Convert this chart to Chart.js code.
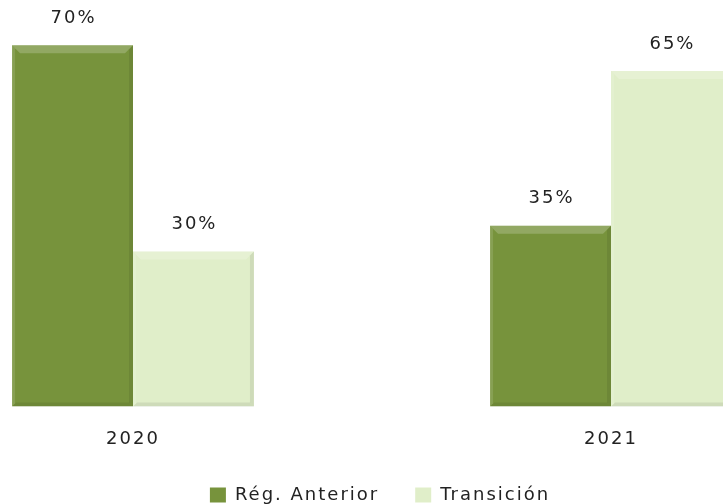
<!DOCTYPE html>
<html>
<head>
<meta charset="utf-8">
<script src="https://cdn.jsdelivr.net/npm/chart.js@4.4.0/dist/chart.umd.min.js"></script>
<style>
  html, body { margin: 0; padding: 0; background: #fff; overflow: hidden; }
  #wrap { position: absolute; left: -106px; top: 0; width: 956px; height: 504px; }
</style>
</head>
<body>
<div id="wrap"><canvas id="myBarChart" width="956" height="504"></canvas></div>
<script>
// data
const years = ['2020', '2021'];
const regAnterior = [70, 35];
const transicion = [30, 65];
const seriesNames = ['Rég. Anterior', 'Transición'];

// wide letter spacing like the original font (canvas state gets reset on resize)
const spacing = {
  id: 'spacing',
  beforeLayout(chart) { chart.ctx.letterSpacing = '2px'; },
  beforeDraw(chart) { chart.ctx.letterSpacing = '2px'; }
};

// nudge the legend a bit up/right after layout
const legendShift = {
  id: 'legendShift',
  afterLayout(chart) {
    const lg = chart.legend;
    lg.top -= 14; lg.bottom -= 14;
    lg.left += 8; lg.right += 8;
  }
};

// value labels above each bar
const valueLabels = {
  id: 'valueLabels',
  afterDatasetsDraw(chart) {
    const ctx = chart.ctx;
    ctx.save();
    ctx.font = '18px "DejaVu Sans"';
    ctx.fillStyle = '#222';
    ctx.textAlign = 'center';
    ctx.textBaseline = 'middle';
    chart.data.datasets.forEach((ds, i) => {
      chart.getDatasetMeta(i).data.forEach((bar, j) => {
        ctx.fillText(ds.data[j] + '%', bar.x + 1, bar.y - 27);
      });
    });
    ctx.restore();
  }
};

// rough excel-style bevel on the bars
const bevel = {
  id: 'bevel',
  afterDatasetsDraw(chart) {
    const ctx = chart.ctx;
    const b = 8;
    ctx.save();
    chart.data.datasets.forEach((ds, i) => {
      chart.getDatasetMeta(i).data.forEach(bar => {
        const l = bar.x - bar.width / 2, r = bar.x + bar.width / 2;
        const t = bar.y, btm = bar.base;
        const poly = (pts, c) => {
          ctx.beginPath();
          ctx.moveTo(pts[0][0], pts[0][1]);
          pts.slice(1).forEach(p => ctx.lineTo(p[0], p[1]));
          ctx.closePath();
          ctx.fillStyle = c;
          ctx.fill();
        };
        poly([[l, t], [r, t], [r - b, t + b], [l + b, t + b]], 'rgba(255,255,255,0.2)');
        poly([[l, t], [l + 3, t + 3], [l + 3, btm - 3], [l, btm]], 'rgba(255,255,255,0.12)');
        poly([[r, t], [r, btm], [r - 4, btm - 4], [r - 4, t + 4]], 'rgba(0,0,0,0.08)');
        poly([[l, btm], [r, btm], [r - 4, btm - 4], [l + 4, btm - 4]], 'rgba(0,0,0,0.08)');
      });
    });
    ctx.restore();
  }
};

var barCanvas = document.getElementById('myBarChart');
const bchart = new Chart(barCanvas, {
  type: 'bar',
  data: {
    labels: years,
    datasets: [{
      label: seriesNames[0],
      data: regAnterior,
      backgroundColor: 'rgb(119, 147, 60)',
      borderWidth: 0
    }, {
      label: seriesNames[1],
      data: transicion,
      backgroundColor: 'rgb(224, 238, 201)',
      borderWidth: 0
    }]
  },
  options: {
    responsive: false,
    animation: false,
    layout: { padding: { top: 0, bottom: -24, left: 0, right: 0 } },
    datasets: { bar: { categoryPercentage: 0.506, barPercentage: 1 } },
    scales: {
      x: {
        grid: { display: false },
        border: { display: false },
        ticks: { padding: 14, color: '#222', font: { family: 'DejaVu Sans', size: 18 } }
      },
      y: { display: false, min: 0, max: 78.75 }
    },
    plugins: {
      tooltip: { enabled: false },
      legend: {
        position: 'bottom',
        labels: {
          boxWidth: 16, boxHeight: 15, padding: 36,
          color: '#222',
          font: { family: 'DejaVu Sans', size: 18 }
        }
      }
    }
  },
  plugins: [spacing, legendShift, bevel, valueLabels]
});
</script>
</body>
</html>
